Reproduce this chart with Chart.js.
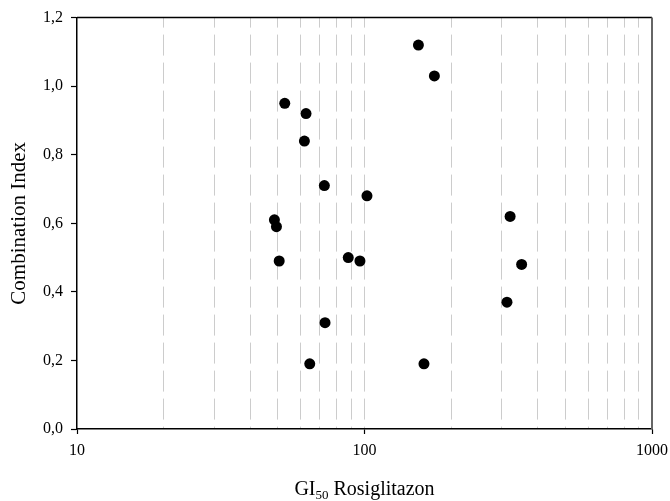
<!DOCTYPE html>
<html>
<head>
<meta charset="utf-8">
<script src="https://cdn.jsdelivr.net/npm/chart.js@4"></script>
<style>
  body { margin: 0; background: #fff; }
</style>
</head>
<body>
<canvas id="ciChart" width="670" height="501"></canvas>
<script>
// GI50 Rosiglitazon (x) / Combination Index (y)
const giValues = [52.8, 62.6, 61.8, 72.5, 48.6, 49.4, 154, 175, 102, 321, 50.5, 72.9, 64.5, 87.8, 96.4, 352, 313, 161];
const ciValues = [0.95, 0.92, 0.84, 0.71, 0.61, 0.59, 1.12, 1.03, 0.68, 0.62, 0.49, 0.31, 0.19, 0.50, 0.49, 0.48, 0.37, 0.19];

// x-axis gridline positions (log decades) and labelled ticks
const xGridValues = [10, 20, 30, 40, 50, 60, 70, 80, 90, 100, 200, 300, 400, 500, 600, 700, 800, 900, 1000];
const xLabelValues = [10, 100, 1000];

const serif = 'Liberation Serif';

var points = [];
for (let i = 0; i < giValues.length; i++) {
	points.push({x: giValues[i], y: ciValues[i]});
}

// frame (top / right) + x title with subscript
const frameAndTitle = {
	id: 'frameAndTitle',
	afterDraw(chart) {
		const ctx = chart.ctx;
		const a = chart.chartArea;
		ctx.save();
		ctx.strokeStyle = '#000';
		ctx.lineWidth = 1.5;
		ctx.beginPath();
		ctx.moveTo(a.left, a.top);
		ctx.lineTo(a.right, a.top);
		ctx.stroke();
		ctx.strokeStyle = '#666';
		ctx.lineWidth = 2;
		ctx.beginPath();
		ctx.moveTo(a.right, a.top);
		ctx.lineTo(a.right, a.bottom);
		ctx.stroke();

		// GI50 Rosiglitazon
		const big = '20px "' + serif + '"';
		const small = '13px "' + serif + '"';
		ctx.fillStyle = '#000';
		ctx.textBaseline = 'alphabetic';
		ctx.textAlign = 'left';
		ctx.font = big;
		const w1 = ctx.measureText('GI').width;
		const w3 = ctx.measureText(' Rosiglitazon').width;
		ctx.font = small;
		const w2 = ctx.measureText('50').width;
		const cx = (a.left + a.right) / 2;
		const by = a.bottom + 66;
		let x = cx - (w1 + w2 + w3) / 2;
		ctx.font = big;
		ctx.fillText('GI', x, by);
		x += w1;
		ctx.font = small;
		ctx.fillText('50', x, by + 4);
		x += w2;
		ctx.font = big;
		ctx.fillText(' Rosiglitazon', x, by);
		ctx.restore();
	}
};

const ctx_ci = document.getElementById('ciChart').getContext('2d');
const ciChart = new Chart(ctx_ci, {
	type: 'scatter',
	data: {
		datasets: [{
			data: points,
			backgroundColor: '#000',
			borderWidth: 0,
			pointRadius: 5.5,
			pointHoverRadius: 5.5
		}]
	},
	options: {
		responsive: false,
		animation: false,
		events: [],
		layout: {
			padding: {top: 15, right: 18, left: 0, bottom: 0}
		},
		plugins: {
			legend: {display: false},
			tooltip: {enabled: false}
		},
		scales: {
			x: {
				type: 'logarithmic',
				min: 10,
				max: 1000,
				afterBuildTicks: function(scale) {
					scale.ticks = xGridValues.map(v => ({value: v}));
				},
				afterFit: function(scale) {
					scale.height = 72;
					scale.paddingRight = 0;
					scale.paddingLeft = 0;
				},
				border: {
					display: true,
					color: '#000',
					width: 1.5,
					dash: [21, 7],
					dashOffset: 11
				},
				grid: {
					drawOnChartArea: true,
					drawTicks: true,
					tickLength: 5,
					lineWidth: 1,
					color: function(c) {
						const v = c.tick ? c.tick.value : 0;
						return (v === 10 || v === 1000) ? 'rgba(0,0,0,0)' : '#cccccc';
					},
					tickColor: function(c) {
						const v = c.tick ? c.tick.value : 0;
						return xLabelValues.includes(v) ? '#000' : 'rgba(0,0,0,0)';
					},
					tickBorderDash: [],
					tickWidth: 1.2
				},
				ticks: {
					autoSkip: false,
					maxRotation: 0,
					padding: 7,
					color: '#000',
					font: {family: serif, size: 16},
					callback: function(value) {
						return xLabelValues.includes(value) ? String(value) : '';
					}
				},
				title: {display: false}
			},
			y: {
				min: 0,
				max: 1.2,
				afterFit: function(scale) {
					scale.width = 77;
				},
				border: {
					display: true,
					color: '#000',
					width: 1.5
				},
				grid: {
					drawOnChartArea: false,
					drawTicks: true,
					tickLength: 6,
					tickColor: '#000',
					tickWidth: 1.2
				},
				ticks: {
					stepSize: 0.2,
					padding: 8,
					color: '#000',
					font: {family: serif, size: 16},
					callback: function(value) {
						return value.toFixed(1).replace('.', ',');
					}
				},
				title: {
					display: true,
					text: 'Combination Index',
					color: '#000',
					font: {family: serif, size: 21},
					padding: {top: 7, bottom: 0}
				}
			}
		}
	},
	plugins: [frameAndTitle]
});
</script>
</body>
</html>
